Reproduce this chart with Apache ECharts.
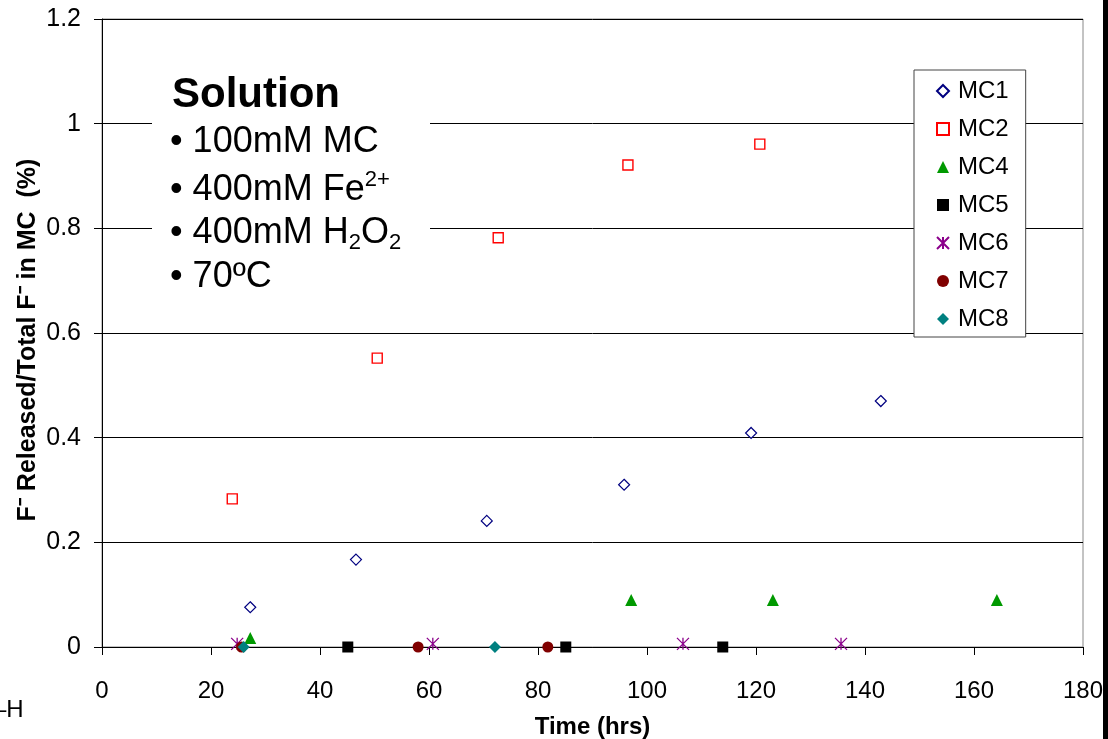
<!DOCTYPE html>
<html>
<head>
<meta charset="utf-8">
<script src="https://cdn.jsdelivr.net/npm/echarts@6/dist/echarts.min.js"></script>
<style>
  html, body { margin: 0; padding: 0; background: #fff; }
  #chart { width: 1108px; height: 739px; }
</style>
</head>
<body>
<div id="chart"></div>
<script>
// data: [time (hrs), fraction released (%)]
const mc1 = [[27.2, 0.076], [46.6, 0.167], [70.6, 0.241], [95.8, 0.31], [119.1, 0.409], [142.9, 0.47]];
const mc2 = [[23.9, 0.283], [50.5, 0.552], [72.7, 0.782], [96.5, 0.921], [120.7, 0.961]];
const mc4 = [[27.2, 0.017], [97.1, 0.09], [123.1, 0.09], [164.2, 0.09]];
const mc5 = [[45.1, 0], [85.1, 0], [113.9, 0]];
const mc6 = [[24.8, 0.006], [60.7, 0.006], [106.6, 0.006], [135.6, 0.006]];
const mc7 = [[25.6, 0], [58.0, 0], [81.8, 0]];
const mc8 = [[26.0, 0], [72.1, 0]];

const yTicks = [0, 0.2, 0.4, 0.6, 0.8, 1, 1.2];
const xTicks = [0, 20, 40, 60, 80, 100, 120, 140, 160, 180];

const FONT = '"Liberation Sans", Arial, sans-serif';
const starPath = 'path://M0,0L10,10M10,0L0,10M5,0L5,10';

const chart = echarts.init(document.getElementById('chart'));

// text styles for the "Solution" box
const boxRich = {
  n: { fontSize: 36, lineHeight: 42, fill: '#000', fontFamily: FONT },
  sup: { fontSize: 22, lineHeight: 26, verticalAlign: 'top', fill: '#000', fontFamily: FONT },
  sub: { fontSize: 22, lineHeight: 16, verticalAlign: 'bottom', fill: '#000', fontFamily: FONT }
};

const option = {
  animation: false,
  textStyle: { fontFamily: FONT },
  grid: { left: 102, right: 25, top: 19, bottom: 92, outerBoundsMode: 'none',
    show: true, borderColor: '#888', borderWidth: 1 },
  xAxis: {
    type: 'value', min: 0, max: 180, interval: 20,
    name: 'Time (hrs)', nameLocation: 'middle', nameGap: 68,
    nameTextStyle: { fontSize: 24, fontWeight: 'bold', color: '#000', fontFamily: FONT },
    axisLine: { show: true, onZero: false, lineStyle: { color: '#000', width: 1 } },
    axisTick: { show: true, inside: false, length: 8, lineStyle: { color: '#000' } },
    axisLabel: { margin: 32, fontSize: 24, color: '#000', fontFamily: FONT,
      formatter: v => xTicks.includes(v) ? String(v) : '' },
    splitLine: { show: false }
  },
  yAxis: {
    type: 'value', min: 0, max: 1.2, interval: 0.2,
    name: 'F\u207B Released/Total F\u207B in MC  (%)', nameLocation: 'middle', nameGap: 61,
    nameMoveOverlap: false,
    nameTextStyle: { fontSize: 25, fontWeight: 'bold', color: '#000', fontFamily: FONT, padding: [0, 14, 0, 0] },
    axisLine: { show: true, lineStyle: { color: '#000', width: 1 } },
    axisTick: { show: true, inside: false, length: 8, lineStyle: { color: '#000' } },
    axisLabel: { margin: 21, fontSize: 25, color: '#000', fontFamily: FONT,
      formatter: v => {
        const t = yTicks.find(k => Math.abs(k - v) < 1e-9);
        return t === undefined ? '' : String(t);
      } },
    splitLine: { show: true, lineStyle: { color: '#000', width: 1 } }
  },
  legend: {
    orient: 'vertical', left: 914, top: 70,
    padding: [9, 17, 6, 22],
    itemWidth: 12, itemHeight: 12, itemGap: 14,
    backgroundColor: '#fff', borderColor: '#444', borderWidth: 1,
    textStyle: { fontSize: 24, lineHeight: 24, color: '#000', fontFamily: FONT, padding: [0, 0, 0, 4] },
    data: ['MC1', 'MC2', 'MC4', 'MC5', 'MC6', 'MC7', 'MC8']
  },
  series: [
    { name: 'MC1', type: 'scatter', data: mc1, symbol: 'diamond', symbolSize: 11,
      itemStyle: { color: '#fff', borderColor: '#000080', borderWidth: 1.2, opacity: 1 } },
    { name: 'MC2', type: 'scatter', data: mc2, symbol: 'rect', symbolSize: 10,
      itemStyle: { color: '#fff', borderColor: '#ff0000', borderWidth: 1.4, opacity: 1 } },
    { name: 'MC4', type: 'scatter', data: mc4, symbol: 'triangle', symbolSize: 12,
      itemStyle: { color: '#009900', opacity: 1 } },
    { name: 'MC5', type: 'scatter', data: mc5, symbol: 'rect', symbolSize: 11,
      itemStyle: { color: '#000', opacity: 1 } },
    { name: 'MC6', type: 'scatter', data: mc6, symbol: starPath, symbolSize: 12,
      itemStyle: { color: 'transparent', borderColor: '#8b008b', borderWidth: 1.3, opacity: 1 } },
    { name: 'MC7', type: 'scatter', data: mc7, symbol: 'circle', symbolSize: 11,
      itemStyle: { color: '#800000', opacity: 1 } },
    { name: 'MC8', type: 'scatter', data: mc8, symbol: 'diamond', symbolSize: 12,
      itemStyle: { color: '#008080', opacity: 1 } }
  ],
  graphic: [
    { type: 'rect', shape: { x: 1103, y: 0, width: 5, height: 739 }, style: { fill: '#000' }, z: 100 },
    { type: 'rect', shape: { x: 152, y: 60, width: 278, height: 240 }, style: { fill: '#fff' }, z: 50 },
    { type: 'text', left: 172, top: 74, z: 51,
      style: { text: 'Solution', fontSize: 42, fontWeight: 'bold', fill: '#000', fontFamily: FONT } },
    { type: 'text', left: 170, top: 124, z: 51,
      style: { text: '{n|\u2022 100mM MC}', rich: boxRich } },
    { type: 'text', left: 170, top: 169, z: 51,
      style: { text: '{n|\u2022 400mM Fe}{sup|2+}', rich: boxRich } },
    { type: 'text', left: 170, top: 215, z: 51,
      style: { text: '{n|\u2022 400mM H}{sub|2}{n|O}{sub|2}', rich: boxRich } },
    { type: 'text', left: 170, top: 259, z: 51,
      style: { text: '{n|\u2022 70\u00BAC}', rich: boxRich } },
    { type: 'text', left: -7, top: 698, z: 51,
      style: { text: '\u2013H', fontSize: 24, fill: '#000', fontFamily: FONT } }
  ]
};

chart.setOption(option);
</script>
</body>
</html>
